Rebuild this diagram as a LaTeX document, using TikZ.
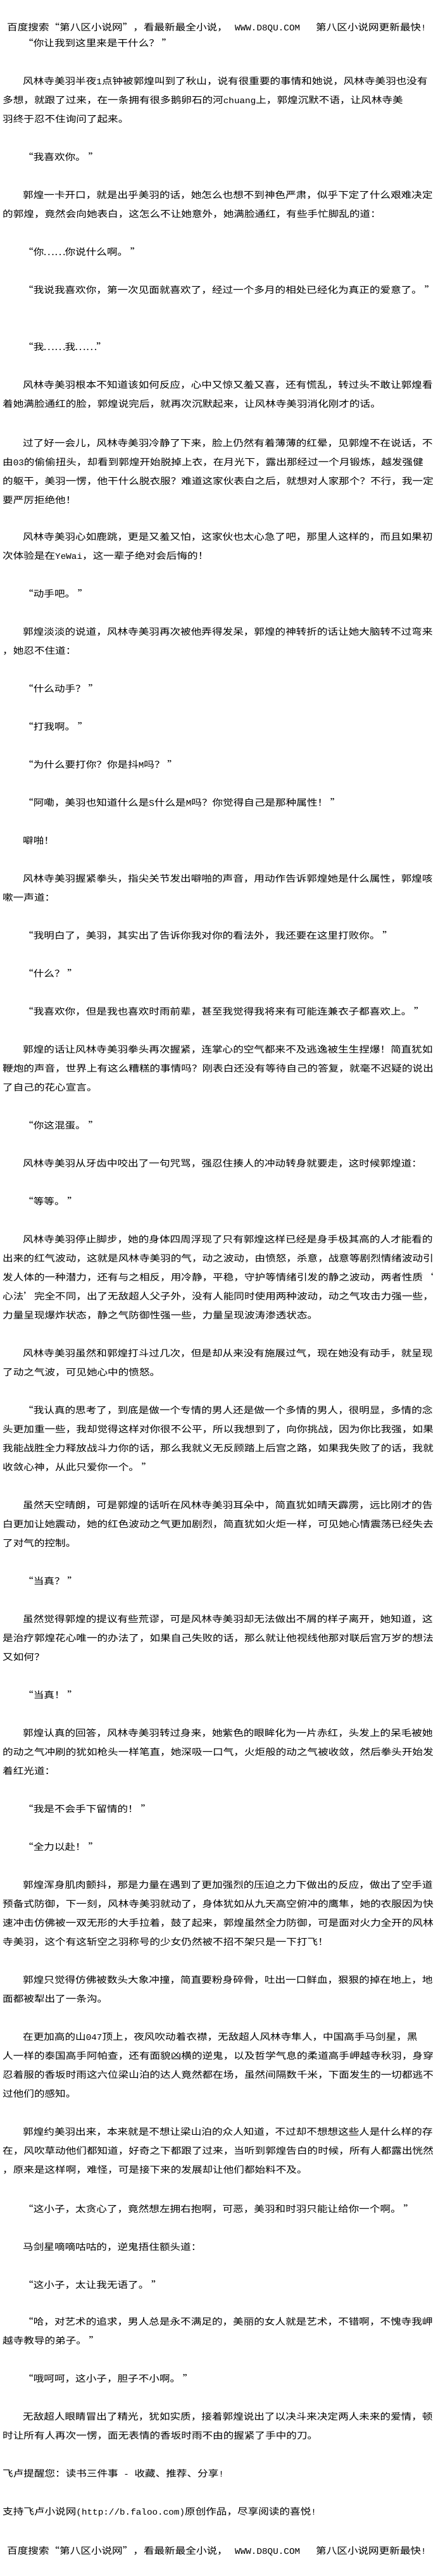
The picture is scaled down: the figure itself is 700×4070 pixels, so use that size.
\documentclass[tikz,border=0pt]{standalone}
\usepackage{fontspec}
\newfontfamily\cjk{Noto Sans CJK SC}[FakeStretch=1.145]
\newfontfamily\latfont{Liberation Mono}[FakeStretch=1.06]
\newcommand\lat[1]{{\fontsize{13.5pt}{14pt}\latfont #1}}
\newcommand\oq{\makebox[16.6pt][r]{“}}
\newcommand\cq{\makebox[16.6pt][l]{”}}
\newcommand\ellip{\makebox[33.2pt]{……}}
\begin{document}
\begin{tikzpicture}[x=1pt,y=-1pt,
  ln/.style={anchor=west,inner sep=0pt,text height=12.8pt,text depth=1.7pt,
    font=\fontsize{14.5}{18}\cjk,text=black}]
\fill[white] (0,0) rectangle (700,4070);
\useasboundingbox (0,0) rectangle (700,4070);
% header
\node[ln] (h1a) at (11,43) {百度搜索\oq 第八区小说网\cq，看最新最全小说，};
\node[ln] (h1b) at (371,43) {\lat{WWW.D8QU.COM}};
\node[ln] (h1c) at (499,43) {第八区小说网更新最快\lat{!}};
\node[ln] (l2) at (36,68) {\oq 你让我到这里来是干什么？ ”};
\node[ln] (l3) at (36,128) {风林寺美羽半夜\lat{1}点钟被郭煌叫到了秋山，说有很重要的事情和她说，风林寺美羽也没有};
\node[ln] (l4) at (4,158) {多想，就跟了过来，在一条拥有很多鹅卵石的河\lat{chuang}上，郭煌沉默不语，让风林寺美};
\node[ln] (l5) at (4,188) {羽终于忍不住询问了起来。};
\node[ln] (l6) at (36,248) {\oq 我喜欢你。 ”};
\node[ln] (l7) at (36,308) {郭煌一卡开口，就是出乎美羽的话，她怎么也想不到神色严肃，似乎下定了什么艰难决定};
\node[ln] (l8) at (4,338) {的郭煌，竟然会向她表白，这怎么不让她意外，她满脸通红，有些手忙脚乱的道：};
\node[ln] (l9) at (36,398) {\oq 你\ellip 你说什么啊。 ”};
\node[ln] (l10) at (36,458) {\oq 我说我喜欢你，第一次见面就喜欢了，经过一个多月的相处已经化为真正的爱意了。 ”};
\node[ln] (l11) at (36,548) {\oq 我\ellip 我\ellip ”};
\node[ln] (l12) at (36,608) {风林寺美羽根本不知道该如何反应，心中又惊又羞又喜，还有慌乱，转过头不敢让郭煌看};
\node[ln] (l13) at (4,638) {着她满脸通红的脸，郭煌说完后，就再次沉默起来，让风林寺美羽消化刚才的话。};
\node[ln] (l14) at (36,700) {过了好一会儿，风林寺美羽冷静了下来，脸上仍然有着薄薄的红晕，见郭煌不在说话，不};
\node[ln] (l15) at (4,730) {由\lat{03}的偷偷扭头，却看到郭煌开始脱掉上衣，在月光下，露出那经过一个月锻炼，越发强健};
\node[ln] (l16) at (4,760) {的躯干，美羽一愣，他干什么脱衣服？难道这家伙表白之后，就想对人家那个？不行，我一定};
\node[ln] (l17) at (4,790) {要严厉拒绝他！};
\node[ln] (l18) at (36,848) {风林寺美羽心如鹿跳，更是又羞又怕，这家伙也太心急了吧，那里人这样的，而且如果初};
\node[ln] (l19) at (4,878) {次体验是在\lat{YeWai}，这一辈子绝对会后悔的！};
\node[ln] (l20) at (36,938) {\oq 动手吧。 ”};
\node[ln] (l21) at (36,998) {郭煌淡淡的说道，风林寺美羽再次被他弄得发呆，郭煌的神转折的话让她大脑转不过弯来};
\node[ln] (l22) at (4,1028) {，她忍不住道：};
\node[ln] (l23) at (36,1088) {\oq 什么动手？ ”};
\node[ln] (l24) at (36,1148) {\oq 打我啊。 ”};
\node[ln] (l25) at (36,1208) {\oq 为什么要打你？你是抖\lat{M}吗？ ”};
\node[ln] (l26) at (36,1268) {\oq 阿嘞，美羽也知道什么是\lat{S}什么是\lat{M}吗？你觉得自己是那种属性！ ”};
\node[ln] (l27) at (36,1328) {噼啪！};
\node[ln] (l28) at (36,1388) {风林寺美羽握紧拳头，指尖关节发出噼啪的声音，用动作告诉郭煌她是什么属性，郭煌咳};
\node[ln] (l29) at (4,1418) {嗽一声道：};
\node[ln] (l30) at (36,1478) {\oq 我明白了，美羽，其实出了告诉你我对你的看法外，我还要在这里打败你。 ”};
\node[ln] (l31) at (36,1538) {\oq 什么？ ”};
\node[ln] (l32) at (36,1598) {\oq 我喜欢你，但是我也喜欢时雨前辈，甚至我觉得我将来有可能连兼衣子都喜欢上。 ”};
\node[ln] (l33) at (36,1658) {郭煌的话让风林寺美羽拳头再次握紧，连掌心的空气都来不及逃逸被生生捏爆！简直犹如};
\node[ln] (l34) at (4,1688) {鞭炮的声音，世界上有这么糟糕的事情吗？刚表白还没有等待自己的答复，就毫不迟疑的说出};
\node[ln] (l35) at (4,1718) {了自己的花心宣言。};
\node[ln] (l36) at (36,1778) {\oq 你这混蛋。 ”};
\node[ln] (l37) at (36,1838) {风林寺美羽从牙齿中咬出了一句咒骂，强忍住揍人的冲动转身就要走，这时候郭煌道：};
\node[ln] (l38) at (36,1898) {\oq 等等。 ”};
\node[ln] (l39) at (36,1958) {风林寺美羽停止脚步，她的身体四周浮现了只有郭煌这样已经是身手极其高的人才能看的};
\node[ln] (l40) at (4,1988) {出来的红气波动，这就是风林寺美羽的气，动之波动，由愤怒，杀意，战意等剧烈情绪波动引};
\node[ln] (l41) at (4,2018) {发人体的一种潜力，还有与之相反，用冷静，平稳，守护等情绪引发的静之波动，两者性质‘};
\node[ln] (l42) at (4,2048) {心法’完全不同，出了无敌超人父子外，没有人能同时使用两种波动，动之气攻击力强一些，};
\node[ln] (l43) at (4,2078) {力量呈现爆炸状态，静之气防御性强一些，力量呈现波涛渗透状态。};
\node[ln] (l44) at (36,2138) {风林寺美羽虽然和郭煌打斗过几次，但是却从来没有施展过气，现在她没有动手，就呈现};
\node[ln] (l45) at (4,2168) {了动之气波，可见她心中的愤怒。};
\node[ln] (l46) at (36,2228) {\oq 我认真的思考了，到底是做一个专情的男人还是做一个多情的男人，很明显，多情的念};
\node[ln] (l47) at (4,2258) {头更加重一些，我却觉得这样对你很不公平，所以我想到了，向你挑战，因为你比我强，如果};
\node[ln] (l48) at (4,2288) {我能战胜全力释放战斗力你的话，那么我就义无反顾踏上后宫之路，如果我失败了的话，我就};
\node[ln] (l49) at (4,2318) {收敛心神，从此只爱你一个。 ”};
\node[ln] (l50) at (36,2378) {虽然天空晴朗，可是郭煌的话听在风林寺美羽耳朵中，简直犹如晴天霹雳，远比刚才的告};
\node[ln] (l51) at (4,2408) {白更加让她震动，她的红色波动之气更加剧烈，简直犹如火炬一样，可见她心情震荡已经失去};
\node[ln] (l52) at (4,2438) {了对气的控制。};
\node[ln] (l53) at (36,2498) {\oq 当真？ ”};
\node[ln] (l54) at (36,2558) {虽然觉得郭煌的提议有些荒谬，可是风林寺美羽却无法做出不屑的样子离开，她知道，这};
\node[ln] (l55) at (4,2588) {是治疗郭煌花心唯一的办法了，如果自己失败的话，那么就让他视线他那对联后宫万岁的想法};
\node[ln] (l56) at (4,2618) {又如何？};
\node[ln] (l57) at (36,2678) {\oq 当真！ ”};
\node[ln] (l58) at (36,2738) {郭煌认真的回答，风林寺美羽转过身来，她紫色的眼眸化为一片赤红，头发上的呆毛被她};
\node[ln] (l59) at (4,2768) {的动之气冲刷的犹如枪头一样笔直，她深吸一口气，火炬般的动之气被收敛，然后拳头开始发};
\node[ln] (l60) at (4,2798) {着红光道：};
\node[ln] (l61) at (36,2858) {\oq 我是不会手下留情的！ ”};
\node[ln] (l62) at (36,2918) {\oq 全力以赴！ ”};
\node[ln] (l63) at (36,2978) {郭煌浑身肌肉颤抖，那是力量在遇到了更加强烈的压迫之力下做出的反应，做出了空手道};
\node[ln] (l64) at (4,3008) {预备式防御，下一刻，风林寺美羽就动了，身体犹如从九天高空俯冲的鹰隼，她的衣服因为快};
\node[ln] (l65) at (4,3038) {速冲击仿佛被一双无形的大手拉着，鼓了起来，郭煌虽然全力防御，可是面对火力全开的风林};
\node[ln] (l66) at (4,3068) {寺美羽，这个有这斩空之羽称号的少女仍然被不招不架只是一下打飞！};
\node[ln] (l67) at (36,3128) {郭煌只觉得仿佛被数头大象冲撞，简直要粉身碎骨，吐出一口鲜血，狠狠的掉在地上，地};
\node[ln] (l68) at (4,3158) {面都被犁出了一条沟。};
\node[ln] (l69) at (36,3218) {在更加高的山\lat{047}顶上，夜风吹动着衣襟，无敌超人风林寺隼人，中国高手马剑星，黑};
\node[ln] (l70) at (4,3248) {人一样的泰国高手阿帕查，还有面貌凶横的逆鬼，以及哲学气息的柔道高手岬越寺秋羽，身穿};
\node[ln] (l71) at (4,3278) {忍着服的香坂时雨这六位梁山泊的达人竟然都在场，虽然间隔数千米，下面发生的一切都逃不};
\node[ln] (l72) at (4,3308) {过他们的感知。};
\node[ln] (l73) at (36,3368) {郭煌约美羽出来，本来就是不想让梁山泊的众人知道，不过却不想想这些人是什么样的存};
\node[ln] (l74) at (4,3398) {在，风吹草动他们都知道，好奇之下都跟了过来，当听到郭煌告白的时候，所有人都露出恍然};
\node[ln] (l75) at (4,3428) {，原来是这样啊，难怪，可是接下来的发展却让他们都始料不及。};
\node[ln] (l76) at (36,3490) {\oq 这小子，太贪心了，竟然想左拥右抱啊，可恶，美羽和时羽只能让给你一个啊。 ”};
\node[ln] (l77) at (36,3550) {马剑星嘀嘀咕咕的，逆鬼捂住额头道：};
\node[ln] (l78) at (36,3610) {\oq 这小子，太让我无语了。 ”};
\node[ln] (l79) at (36,3668) {\oq 哈，对艺术的追求，男人总是永不满足的，美丽的女人就是艺术，不错啊，不愧寺我岬};
\node[ln] (l80) at (4,3698) {越寺教导的弟子。 ”};
\node[ln] (l81) at (36,3758) {\oq 哦呵呵，这小子，胆子不小啊。 ”};
\node[ln] (l82) at (36,3818) {无敌超人眼睛冒出了精光，犹如实质，接着郭煌说出了以决斗来决定两人未来的爱情，顿};
\node[ln] (l83) at (4,3848) {时让所有人再次一愣，面无表情的香坂时雨不由的握紧了手中的刀。};
\node[ln] (l84) at (4,3908) {飞卢提醒您：读书三件事\lat{ - }收藏、推荐、分享\lat{!}};
\node[ln] (l85) at (4,3968) {支持飞卢小说网\lat{(http://b.faloo.com)}原创作品，尽享阅读的喜悦\lat{!}};
% footer header
\node[ln] (h2a) at (11,4030) {百度搜索\oq 第八区小说网\cq，看最新最全小说，};
\node[ln] (h2b) at (371,4030) {\lat{WWW.D8QU.COM}};
\node[ln] (h2c) at (499,4030) {第八区小说网更新最快\lat{!}};
\end{tikzpicture}
\end{document}
